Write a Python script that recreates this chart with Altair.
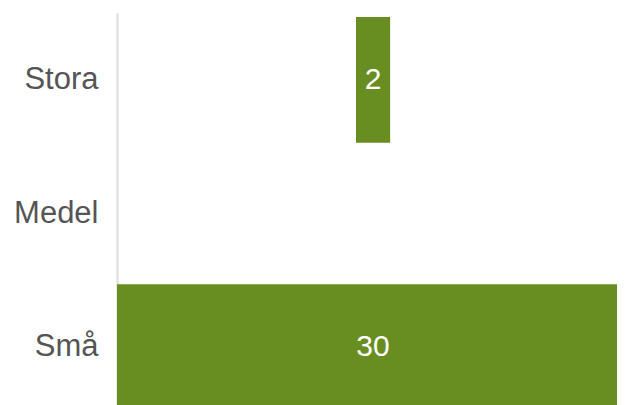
import altair as alt
import pandas as pd

categories = ["Stora", "Medel", "Små"]
values = [2, 0, 30]

df = pd.DataFrame({"kategori": categories, "antal": values})

base = alt.Chart(df).transform_calculate(
    lo="-datum.antal / 2", hi="datum.antal / 2"
)

y_enc = alt.Y(
    "kategori:N",
    sort=categories,
    scale=alt.Scale(paddingInner=0.06, paddingOuter=0.03),
    axis=alt.Axis(
        title=None,
        ticks=False,
        domain=True,
        domainColor="#dcdcdc",
        domainWidth=2,
        grid=False,
        labelFont="Liberation Sans",
        labelFontSize=31,
        labelColor="#555555",
        labelPadding=19,
    ),
)

# plot is 500 px wide; bars centred at 256 px => domain [-15, 14.29]
x_scale = alt.Scale(domain=[-15, 14.29], nice=False, zero=False)

bars = base.mark_bar(color="#688e21", clip=True).encode(
    y=y_enc,
    x=alt.X("lo:Q", scale=x_scale, axis=None),
    x2="hi:Q",
)

labels = base.transform_filter("datum.antal > 0").mark_text(
    color="white", font="Liberation Sans", fontSize=30, baseline="middle", align="center"
).encode(
    y=alt.Y("kategori:N", sort=categories),
    x=alt.X("zero_pos:Q", scale=x_scale, axis=None),
    text="antal:Q",
).transform_calculate(zero_pos="0")

chart = alt.layer(bars, labels).properties(
    width=500,
    height=401,
    autosize=alt.AutoSizeParams(type="none"),
    padding={"left": 109, "top": 5, "right": 0, "bottom": 0},
).configure_view(stroke=None)

chart.save("out.html", embed_options={"renderer": "svg", "actions": False})
